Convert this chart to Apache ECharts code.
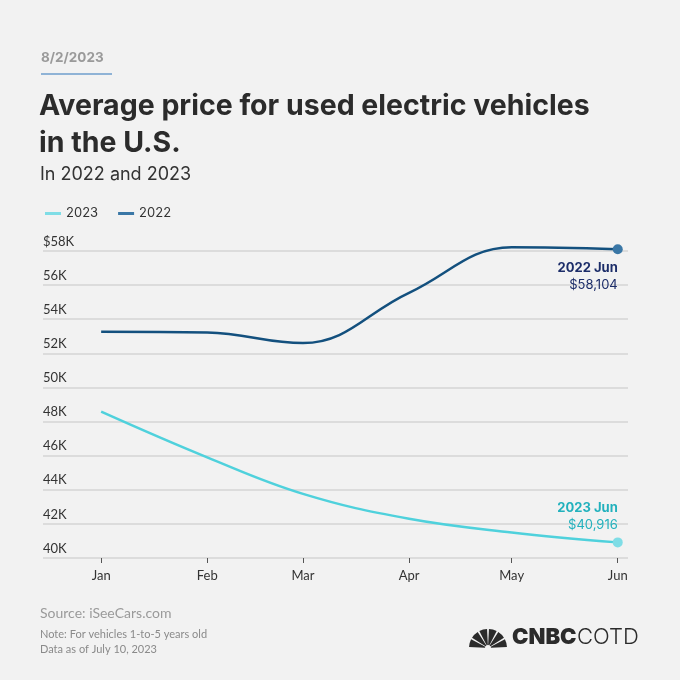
<!DOCTYPE html>
<html>
<head>
<meta charset="utf-8">
<script src="https://cdn.jsdelivr.net/npm/echarts@6/dist/echarts.min.js"></script>
<style>
html,body{margin:0;padding:0;background:#f2f2f2;}
#chart{width:680px;height:680px;}
</style>
</head>
<body>
<div id="chart"></div>
<script>
var months = ['Jan', 'Feb', 'Mar', 'Apr', 'May', 'Jun'];
var values2023 = [48580, 45900, 43760, 42300, 41500, 40916];
var values2022 = [53260, 53220, 52600, 55550, 58220, 58104];
var yTicks = [40000, 42000, 44000, 46000, 48000, 50000, 52000, 54000, 56000, 58000];

var FONT = 'Lato, "Open Sans", sans-serif';
var HFONT = 'Inter, "Open Sans", sans-serif';
var DAY = 86400000;
// day-of-year of the 1st of each month (calendar positions)
var monthDays = months.map(function (m, i) { return Math.round((Date.UTC(2023, i, 1) - Date.UTC(2023, 0, 1)) / DAY); });

function seriesData(vals) {
  return vals.map(function (v, i) {
    var item = { value: [monthDays[i], v] };
    if (i === vals.length - 1) { item.symbol = 'circle'; item.symbolSize = 10; }
    return item;
  });
}

var d2023 = seriesData(values2023);
var d2022 = seriesData(values2022);
d2022[5].label = {
  show: true, position: 'bottom', align: 'right', distance: 5,
  formatter: '{a|2022 Jun}\n{b|$' + values2022[5].toLocaleString('en-US') + '}',
  rich: {
    a: { fontFamily: HFONT, fontSize: 13, fontWeight: 'bold', color: '#1c2d69', lineHeight: 17, align: 'right' },
    b: { fontFamily: HFONT, fontSize: 13, color: '#1c2d69', lineHeight: 17, align: 'right' }
  }
};
d2023[5].label = {
  show: true, position: 'top', align: 'right', distance: 4,
  formatter: '{a|2023 Jun}\n{b|$' + values2023[5].toLocaleString('en-US') + '}',
  rich: {
    a: { fontFamily: HFONT, fontSize: 13, fontWeight: 'bold', color: '#22b1bd', lineHeight: 17, align: 'right' },
    b: { fontFamily: HFONT, fontSize: 13, color: '#22b1bd', lineHeight: 17, align: 'right' }
  }
};

var chart = echarts.init(document.getElementById('chart'));

var feathers = [];
for (var k = 0; k < 6; k++) {
  var a0 = Math.PI * (k / 6) + 0.05;
  var a1 = Math.PI * ((k + 1) / 6) - 0.05;
  feathers.push({
    type: 'sector',
    shape: { cx: 488, cy: 648, r0: 3, r: 19, startAngle: Math.PI + a0, endAngle: Math.PI + a1 },
    style: { fill: '#2b2b2b' }
  });
}

chart.setOption({
  backgroundColor: '#f2f2f2',
  animation: false,
  color: ['#4fd1dc', '#13507e'],
  graphic: [
    { type: 'text', left: 41, top: 51, style: { text: '8/2/2023', fontFamily: HFONT, fontSize: 13.5, fontWeight: 'bold', fill: '#9a9a9a' } },
    { type: 'rect', shape: { x: 41, y: 73, width: 71, height: 2 }, style: { fill: '#8fb3d6' } },
    { type: 'text', left: 39, top: 88, style: { text: 'Average price for used electric vehicles\nin the U.S.', fontFamily: HFONT, fontSize: 28.5, fontWeight: 'bold', fill: '#2b2b2b', lineHeight: 37 } },
    { type: 'text', left: 40, top: 166, style: { text: 'In 2022 and 2023', fontFamily: HFONT, fontSize: 18, fill: '#333333' } },
    { type: 'text', left: 40, top: 606, style: { text: 'Source: iSeeCars.com', fontFamily: FONT, fontSize: 14, fill: '#9a9a9a' } },
    { type: 'text', left: 40, top: 627, style: { text: 'Note: For vehicles 1-to-5 years old\nData as of July 10, 2023', fontFamily: FONT, fontSize: 11, fill: '#8a8a8a', lineHeight: 15 } },
    { type: 'group', children: feathers },
    { type: 'text', left: 512, top: 626, style: { text: 'CNBC', fontFamily: HFONT, fontSize: 22, fontWeight: 900, fill: '#2b2b2b' } },
    { type: 'text', left: 577, top: 626, style: { text: 'COTD', fontFamily: HFONT, fontSize: 22, fontWeight: 300, fill: '#2b2b2b' } }
  ],
  legend: {
    left: 40, top: 202,
    itemWidth: 16, itemHeight: 3, itemGap: 20,
    icon: 'rect',
    textStyle: { fontFamily: HFONT, fontSize: 13, color: '#333' },
    data: ['2023', '2022']
  },
  grid: { left: 43, right: 52, top: 251, bottom: 122, containLabel: false },
  xAxis: {
    type: 'value',
    min: -17,
    max: 154,
    axisLine: { show: false },
    splitLine: { show: false },
    axisTick: { show: true, length: 5, customValues: monthDays, lineStyle: { color: '#555', width: 1 } },
    axisLabel: {
      customValues: monthDays,
      margin: 11,
      fontFamily: FONT, fontSize: 13, color: '#333',
      formatter: function (v) {
        var idx = monthDays.indexOf(Math.round(v));
        return idx >= 0 ? months[idx] : '';
      }
    }
  },
  yAxis: {
    type: 'value',
    min: yTicks[0], max: yTicks[yTicks.length - 1], interval: 2000,
    axisLine: { show: false },
    axisTick: { show: false },
    splitLine: { lineStyle: { color: '#d4d4d4', width: 1.5 } },
    axisLabel: {
      inside: true,
      verticalAlign: 'bottom',
      margin: 0,
      padding: [0, 0, 3, 0],
      fontFamily: FONT, fontSize: 13, color: '#333',
      formatter: function (v) {
        var s = (v / 1000) + 'K';
        return v === yTicks[yTicks.length - 1] ? '$' + s : s;
      }
    }
  },
  series: [
    {
      name: '2023', type: 'line', data: d2023, smooth: 0.4, clip: false,
      symbol: 'none', showSymbol: true, showAllSymbol: true,
      lineStyle: { width: 2.5, color: '#4fd1dc' },
      itemStyle: { color: '#7fdde6' }
    },
    {
      name: '2022', type: 'line', data: d2022, smooth: 0.4, clip: false,
      symbol: 'none', showSymbol: true, showAllSymbol: true,
      lineStyle: { width: 2.5, color: '#13507e' },
      itemStyle: { color: '#3a77a6' }
    }
  ]
});
</script>
</body>
</html>
